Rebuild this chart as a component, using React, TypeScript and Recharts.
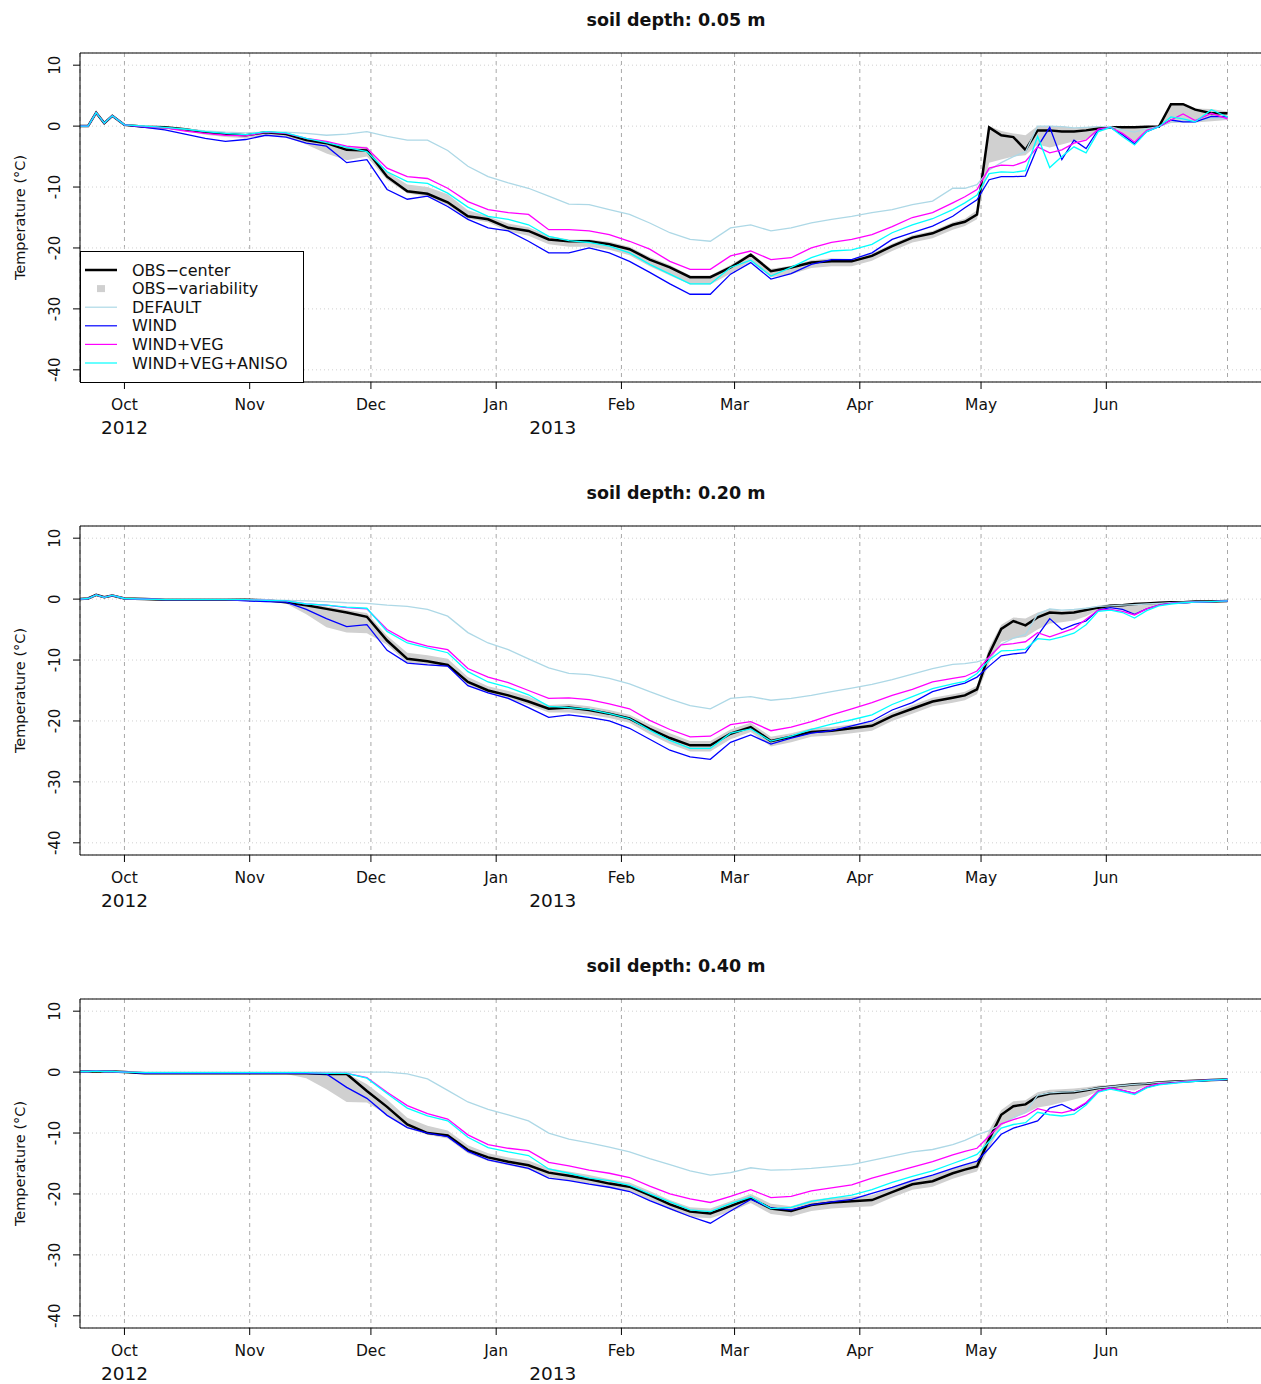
import {
  Area,
  CartesianGrid,
  ComposedChart,
  Legend,
  Line,
  ReferenceLine,
  XAxis,
  YAxis,
} from "recharts";

// days since 1 Oct 2012
const DAYS = [
  -11, -9, -7, -5, -3, 0,
  5, 10, 15, 20, 25, 30, 35, 40, 45, 50,
  55, 60, 65, 70, 75, 80, 85, 90, 95, 100,
  105, 110, 115, 120, 125, 130, 135, 140, 145, 150,
  155, 160, 165, 170, 175, 180, 185, 190, 195, 200,
  205, 208, 211, 214, 217, 220, 223, 226, 229, 232,
  235, 238, 241, 244, 247, 250, 253, 256, 259, 262,
  265, 269, 273,
];

// ---- 0.05 m ----
const OBS_05 = [
  0, 0, 2.2, 0.5, 1.7, 0.2,
  -0.1, -0.2, -0.5, -1.0, -1.3, -1.5, -1.0, -1.3, -2.3, -2.8,
  -3.9, -4.0, -8.3, -10.7, -11.1, -12.5, -14.8, -15.3, -16.7, -17.2,
  -18.6, -18.9, -18.9, -19.4, -20.2, -21.9, -23.2, -24.8, -24.8, -23.2,
  -21.1, -23.8, -23.2, -22.4, -22.2, -22.2, -21.3, -19.7, -18.3, -17.6,
  -16.2, -15.7, -14.5, -0.2, -1.5, -1.8, -3.9, -0.7, -0.7, -0.9,
  -0.9, -0.7, -0.4, -0.2, -0.2, -0.2, -0.1, -0.1, 3.6, 3.6,
  2.7, 2.1, 2.1,
];
const OBS_LO_05 = [
  0, 0, 2.2, 0.5, 1.7, 0.2,
  -0.2, -0.4, -0.8, -1.4, -1.8, -2.0, -1.5, -1.8, -3.0, -4.5,
  -5.6, -5.0, -8.8, -11.0, -11.6, -13.0, -15.2, -15.8, -17.3, -18.0,
  -19.4, -19.8, -19.8, -20.3, -21.2, -23.0, -24.5, -26.0, -26.0, -24.2,
  -22.2, -24.8, -24.3, -23.3, -23.0, -23.0, -22.1, -20.5, -19.1, -18.4,
  -17.0, -16.4, -15.3, -6.0, -5.5, -5.0, -4.8, -3.0, -3.5, -3.0,
  -2.5, -2.2, -1.0, -0.4, -1.2, -2.4, -0.8, -0.2, 0.5, 0.6,
  0.6, 0.8, 1.0,
];
const OBS_HI_05 = [
  0, 0, 2.2, 0.5, 1.7, 0.2,
  0, -0.1, -0.4, -0.8, -1.1, -1.3, -0.9, -1.1, -2.0, -2.5,
  -3.3, -3.4, -7.5, -9.6, -10.0, -11.2, -13.8, -14.8, -16.0, -16.6,
  -18.0, -18.6, -18.6, -19.0, -19.8, -21.5, -22.8, -24.5, -24.5, -22.8,
  -20.8, -23.4, -22.9, -22.0, -21.7, -21.8, -20.9, -19.3, -17.9, -17.2,
  -15.8, -15.2, -13.8, 0, -0.8, -1.2, -1.5, 0, 0, 0,
  -0.3, -0.2, 0, 0, 0, 0, 0, 0, 3.8, 3.8,
  2.9, 2.8, 2.4,
];
const DEFAULT_05 = [
  0, 0, 2.2, 0.5, 1.7, 0.2,
  0, -0.3, -0.5, -0.8, -1.0, -1.1, -1.0, -1.0, -1.2, -1.5,
  -1.3, -0.9, -1.7, -2.3, -2.3, -4.0, -6.6, -8.3, -9.3, -10.2,
  -11.5, -12.8, -12.9, -13.7, -14.5, -15.9, -17.5, -18.6, -18.9, -16.7,
  -16.2, -17.2, -16.7, -15.9, -15.3, -14.8, -14.2, -13.7, -12.9, -12.3,
  -10.2, -10.2, -9.6, -7.2, -6.0, -5.0, -4.2, 0, 0, -0.1,
  -0.3, -0.2, -0.1, -0.1, -0.6, -1.0, -0.4, -0.1, 0.7, 0.8,
  0.7, 1.3, 1.2,
];
const WIND_05 = [
  0, 0, 2.2, 0.5, 1.7, 0.2,
  -0.2, -0.6, -1.3, -2.0, -2.5, -2.2, -1.5, -1.8, -2.8, -3.3,
  -6.0, -5.5, -10.4, -12.0, -11.5, -13.2, -15.3, -16.7, -17.2, -18.9,
  -20.8, -20.8, -20.0, -20.8, -22.2, -24.0, -25.9, -27.6, -27.6, -24.3,
  -22.4, -25.1, -24.2, -22.7, -21.9, -21.9, -20.8, -18.6, -17.5, -16.4,
  -14.8, -13.4, -12.1, -8.8, -8.3, -8.3, -8.2, -3.4, -0.2, -5.5,
  -2.3, -3.7, -0.6, -0.2, -1.4, -2.9, -0.9, -0.1, 1.0, 0.7,
  0.7, 1.6, 1.5,
];
const WIND_VEG_05 = [
  0, 0, 2.2, 0.5, 1.7, 0.2,
  -0.1, -0.3, -0.8, -1.2, -1.5, -1.6, -1.0, -1.2, -2.0, -2.5,
  -3.3, -3.6, -6.9, -8.3, -8.6, -10.2, -12.4, -13.7, -14.2, -14.5,
  -17.0, -17.0, -17.2, -17.8, -18.9, -20.2, -22.2, -23.5, -23.5, -21.3,
  -20.5, -21.9, -21.6, -20.0, -19.1, -18.6, -17.8, -16.5, -15.0, -14.2,
  -12.6, -11.6, -10.4, -6.9, -6.4, -6.5, -5.8, -3.4, -4.4, -3.9,
  -2.8, -2.3, -0.5, -0.2, -1.2, -2.6, -0.7, -0.1, 1.0, 2.0,
  0.9, 2.1, 1.2,
];
const WIND_VEG_ANISO_05 = [
  0, 0, 2.2, 0.5, 1.7, 0.2,
  0, -0.2, -0.5, -0.9, -1.2, -1.4, -0.9, -1.1, -2.0, -2.7,
  -3.5, -4.2, -7.5, -9.1, -9.4, -11.0, -13.3, -14.8, -15.3, -16.2,
  -18.1, -18.8, -19.1, -19.7, -20.8, -22.7, -24.3, -25.9, -25.9, -23.2,
  -22.0, -24.6, -23.2, -21.6, -20.5, -20.3, -19.4, -17.5, -16.2, -15.2,
  -13.7, -12.6, -11.3, -7.8, -7.5, -7.6, -7.3, -1.7, -6.8, -5.0,
  -3.4, -4.4, -0.9, -0.2, -1.7, -3.1, -0.9, -0.1, 1.5, 1.2,
  0.7, 2.7, 1.5,
];

// ---- 0.20 m ----
const OBS_20 = [
  0, 0.1, 0.7, 0.3, 0.6, 0.1,
  0, -0.1, -0.1, -0.1, -0.1, -0.1, -0.2, -0.5, -1.0, -1.6,
  -2.2, -2.9, -6.8, -9.8, -10.2, -10.8, -13.6, -15.0, -15.8, -16.8,
  -18.0, -17.8, -18.2, -18.8, -19.6, -21.3, -22.8, -24.0, -24.0, -22.1,
  -21.0, -23.3, -22.6, -21.8, -21.6, -21.2, -20.8, -19.2, -18.0, -16.8,
  -16.2, -15.8, -14.8, -9.0, -4.9, -3.6, -4.3, -3.0, -2.2, -2.3,
  -2.2, -1.8, -1.4, -1.1, -1.0, -0.8, -0.7, -0.6, -0.5, -0.5,
  -0.4, -0.4, -0.3,
];
const OBS_LO_20 = [
  0, 0.1, 0.7, 0.3, 0.6, 0.1,
  0, -0.1, -0.1, -0.1, -0.1, -0.2, -0.3, -0.7, -2.5, -4.6,
  -5.5, -5.6, -7.5, -10.5, -10.8, -11.2, -14.0, -15.4, -16.4, -17.4,
  -18.6, -18.6, -19.0, -19.5, -20.3, -22.2, -23.8, -25.0, -25.0, -23.0,
  -21.8, -24.2, -23.5, -22.6, -22.4, -22.0, -21.6, -20.0, -18.8, -17.6,
  -17.0, -16.6, -15.6, -10.5, -7.0, -6.5, -6.2, -5.0, -4.0, -3.8,
  -3.5, -2.8, -1.8, -1.4, -1.8, -2.4, -1.6, -1.0, -0.7, -0.6,
  -0.5, -0.5, -0.4,
];
const OBS_HI_20 = [
  0, 0.1, 0.7, 0.3, 0.6, 0.1,
  0, -0.1, -0.1, -0.1, -0.1, -0.1, -0.1, -0.4, -0.8, -1.2,
  -1.8, -2.3, -6.0, -8.8, -9.2, -9.8, -12.8, -14.3, -15.1, -16.0,
  -17.4, -17.2, -17.6, -18.2, -19.0, -20.6, -22.0, -23.3, -23.3, -21.4,
  -20.3, -22.6, -22.0, -21.2, -21.0, -20.6, -20.2, -18.6, -17.4, -16.2,
  -15.6, -15.2, -14.2, -8.0, -4.2, -3.0, -3.2, -2.2, -1.6, -1.9,
  -1.8, -1.4, -1.1, -0.8, -0.8, -0.6, -0.5, -0.5, -0.4, -0.4,
  -0.3, -0.3, -0.3,
];
const DEFAULT_20 = [
  0, 0.1, 0.7, 0.3, 0.6, 0.1,
  0, 0, 0, 0, 0, -0.1, -0.1, -0.2, -0.3, -0.4,
  -0.6, -0.7, -1.0, -1.2, -1.7, -2.8, -5.5, -7.2, -8.3, -9.8,
  -11.3, -12.2, -12.4, -13.0, -13.9, -15.2, -16.4, -17.5, -18.0, -16.3,
  -16.0, -16.6, -16.3, -15.8, -15.2, -14.6, -14.0, -13.2, -12.3, -11.4,
  -10.7, -10.6, -10.3, -9.7, -7.4, -6.4, -5.8, -2.5, -1.6, -1.8,
  -1.7, -1.5, -1.2, -1.1, -1.0, -0.9, -0.8, -0.7, -0.6, -0.5,
  -0.4, -0.4, -0.3,
];
const WIND_20 = [
  0, 0.1, 0.7, 0.3, 0.6, 0.1,
  0, -0.1, -0.1, -0.1, -0.1, -0.3, -0.4, -0.5, -1.7, -3.2,
  -4.5, -4.2, -8.4, -10.5, -10.8, -11.0, -14.2, -15.4, -16.3, -17.8,
  -19.4, -19.0, -19.4, -20.0, -21.2, -23.0, -24.8, -25.9, -26.3, -23.5,
  -22.3, -23.8, -22.8, -22.0, -21.6, -20.8, -20.0, -18.2, -17.0, -15.2,
  -14.3, -13.8, -12.8, -11.0, -9.3, -9.0, -8.8, -6.0, -3.2, -5.0,
  -4.2, -3.6, -1.8, -1.4, -1.7, -2.5, -1.6, -1.0, -0.7, -0.6,
  -0.5, -0.4, -0.3,
];
const WIND_VEG_20 = [
  0, 0.1, 0.7, 0.3, 0.6, 0.1,
  0, -0.1, -0.1, -0.1, -0.1, -0.1, -0.2, -0.3, -0.8, -1.0,
  -1.4, -1.6, -5.0, -6.8, -7.7, -8.3, -11.4, -12.8, -13.7, -15.0,
  -16.3, -16.2, -16.5, -17.2, -18.0, -19.9, -21.4, -22.6, -22.5, -20.6,
  -20.1, -21.6, -21.0, -20.1, -19.0, -18.0, -17.0, -15.8, -14.8, -13.6,
  -13.0, -12.7, -11.8, -9.5, -7.5, -7.3, -7.0, -5.5, -6.2, -5.5,
  -4.8, -3.3, -1.8, -1.7, -2.0, -2.6, -1.6, -1.0, -0.7, -0.6,
  -0.5, -0.4, -0.3,
];
const WIND_VEG_ANISO_20 = [
  0, 0.1, 0.7, 0.3, 0.6, 0.1,
  0, -0.1, -0.1, -0.1, -0.1, -0.1, -0.2, -0.3, -0.8, -1.0,
  -1.3, -1.5, -5.3, -7.2, -8.0, -8.8, -11.9, -13.6, -14.5, -15.7,
  -17.6, -17.8, -18.1, -18.8, -19.6, -21.5, -23.2, -24.5, -24.5, -22.0,
  -21.3, -23.3, -22.5, -21.4, -20.5, -19.8, -19.0, -17.3, -16.0, -14.7,
  -13.9, -13.5, -12.2, -10.0, -8.5, -8.4, -8.2, -6.5, -6.7, -6.2,
  -5.6, -4.2, -2.0, -1.8, -2.2, -3.1, -1.9, -1.1, -0.8, -0.6,
  -0.5, -0.4, -0.3,
];

// ---- 0.40 m ----
const OBS_40 = [
  0.1, 0.1, 0.15, 0.1, 0.1, 0,
  -0.2, -0.2, -0.2, -0.2, -0.2, -0.2, -0.2, -0.2, -0.2, -0.3,
  -0.3, -3.1, -5.7, -8.6, -10.0, -10.4, -12.8, -14.0, -14.7, -15.3,
  -16.5, -17.0, -17.6, -18.3, -18.8, -20.2, -21.7, -22.9, -23.2, -22.0,
  -20.7, -22.4, -22.8, -21.8, -21.4, -21.2, -21.0, -19.7, -18.4, -17.9,
  -16.6, -16.0, -15.5, -11.0, -7.0, -5.6, -5.3, -4.0, -3.5, -3.4,
  -3.3, -3.0, -2.6, -2.4, -2.2, -2.0, -1.9, -1.7, -1.6, -1.5,
  -1.4, -1.3, -1.2,
];
const OBS_LO_40 = [
  0.1, 0.1, 0.15, 0.1, 0.1, 0,
  -0.3, -0.3, -0.3, -0.3, -0.3, -0.3, -0.3, -0.3, -1.0, -2.8,
  -4.9, -5.0, -7.0, -9.2, -10.3, -10.9, -13.3, -14.6, -15.3, -16.0,
  -17.2, -17.8, -18.4, -19.0, -19.6, -21.0, -22.6, -23.8, -24.0, -22.9,
  -21.5, -23.3, -23.7, -22.8, -22.4, -22.2, -22.0, -20.6, -19.3, -18.8,
  -17.5, -16.9, -16.3, -12.5, -8.8, -7.5, -6.8, -5.8, -5.5, -5.0,
  -4.5, -4.0, -3.2, -2.7, -2.8, -3.0, -2.3, -1.9, -1.8, -1.6,
  -1.5, -1.4, -1.3,
];
const OBS_HI_40 = [
  0.1, 0.1, 0.15, 0.1, 0.1, 0,
  -0.1, -0.1, -0.1, -0.1, -0.1, -0.1, -0.1, -0.1, -0.1, -0.2,
  -0.2, -2.0, -4.5, -7.5, -8.8, -9.6, -12.0, -13.3, -14.0, -14.5,
  -15.8, -16.3, -16.9, -17.6, -18.1, -19.5, -21.0, -22.2, -22.4, -21.2,
  -20.0, -21.6, -22.0, -21.0, -20.6, -20.4, -20.2, -18.9, -17.6, -17.0,
  -15.8, -15.2, -14.6, -9.5, -6.2, -4.8, -4.6, -3.3, -2.9, -2.8,
  -2.7, -2.5, -2.2, -2.1, -1.9, -1.8, -1.7, -1.5, -1.4, -1.3,
  -1.3, -1.2, -1.1,
];
const DEFAULT_40 = [
  0.1, 0.1, 0.15, 0.1, 0.1, 0,
  0, 0, 0, 0, 0, 0, 0, 0, 0, 0,
  0, 0, 0, -0.3, -1.1, -3.0, -4.9, -6.1, -7.0, -8.0,
  -10.0, -11.0, -11.6, -12.3, -13.1, -14.2, -15.2, -16.2, -16.9, -16.5,
  -15.7, -16.1, -16.0, -15.8, -15.5, -15.2, -14.5, -13.8, -13.1, -12.7,
  -11.9, -11.2, -10.3, -9.6, -8.6, -7.5, -6.6, -3.8, -3.4, -3.3,
  -3.2, -2.9, -2.6, -2.4, -2.2, -2.0, -1.9, -1.7, -1.6, -1.5,
  -1.4, -1.3, -1.2,
];
const WIND_40 = [
  0.1, 0.1, 0.15, 0.1, 0.1, 0,
  -0.2, -0.2, -0.2, -0.2, -0.2, -0.2, -0.2, -0.2, -0.2, -0.3,
  -2.5, -4.3, -7.1, -9.1, -10.0, -10.6, -13.0, -14.4, -15.1, -15.8,
  -17.4, -17.8, -18.4, -18.9, -19.6, -21.1, -22.4, -23.7, -24.8, -22.8,
  -20.9, -22.3, -22.6, -21.8, -21.3, -20.9, -19.9, -18.9, -17.8, -16.9,
  -15.8, -15.2, -14.6, -12.5, -10.2, -9.2, -8.6, -8.0, -5.9, -5.3,
  -6.3, -5.1, -3.1, -2.6, -3.0, -3.5, -2.5, -2.0, -1.8, -1.6,
  -1.5, -1.3, -1.2,
];
const WIND_VEG_40 = [
  0.1, 0.1, 0.15, 0.1, 0.1, 0,
  -0.1, -0.1, -0.1, -0.1, -0.1, -0.1, -0.1, -0.1, -0.1, -0.2,
  -0.2, -0.9, -3.3, -5.5, -6.8, -7.7, -10.3, -11.9, -12.5, -12.9,
  -14.8, -15.4, -16.1, -16.6, -17.3, -18.7, -20.0, -20.8, -21.4, -20.4,
  -19.3, -20.6, -20.4, -19.5, -19.0, -18.5, -17.4, -16.5, -15.6, -14.7,
  -13.6, -13.0, -12.5, -10.5, -8.5, -7.8, -7.2, -6.0, -6.5, -6.7,
  -6.2, -5.0, -3.1, -2.6, -3.0, -3.5, -2.4, -1.9, -1.8, -1.6,
  -1.4, -1.3, -1.2,
];
const WIND_VEG_ANISO_40 = [
  0.1, 0.1, 0.15, 0.1, 0.1, 0,
  -0.1, -0.1, -0.1, -0.1, -0.1, -0.1, -0.1, -0.1, -0.1, -0.2,
  -0.2, -1.0, -3.5, -5.9, -7.2, -8.0, -10.7, -12.4, -13.1, -13.7,
  -15.9, -16.6, -17.4, -17.8, -18.6, -20.0, -21.3, -22.6, -22.9, -21.6,
  -20.5, -22.4, -22.2, -21.2, -20.7, -20.2, -19.3, -18.1, -17.1, -16.2,
  -15.0, -14.3, -13.5, -11.4, -9.2, -8.6, -8.3, -6.6, -7.0, -7.2,
  -6.9, -5.4, -3.3, -2.8, -3.2, -3.7, -2.6, -2.1, -1.9, -1.7,
  -1.5, -1.3, -1.2,
];

// axes
const X_DOMAIN = [-11, 285];
const Y_DOMAIN = [-42, 12];
// first of each month; 1 Jul only gets a grid line
const MONTH_TICKS = [0, 31, 61, 92, 123, 151, 182, 212, 243, 273];
const MONTH_LABELS = ["Oct", "Nov", "Dec", "Jan", "Feb", "Mar", "Apr", "May", "Jun"];
const YEAR_TICKS = [0, 106];
const YEAR_LABELS = ["2012", "2013"];
const TEMP_TICKS = [-40, -30, -20, -10, 0, 10];

const OBS_COLOR = "#000000";
const BAND_COLOR = "#d0d0d0";
const MODEL_RUNS = [
  { key: "def", name: "DEFAULT", color: "#add8e6" },
  { key: "wind", name: "WIND", color: "#0000ff" },
  { key: "veg", name: "WIND+VEG", color: "#ff00ff" },
  { key: "aniso", name: "WIND+VEG+ANISO", color: "#00ffff" },
];

const PANELS = [
  { depth: "0.05", obs: OBS_05, lo: OBS_LO_05, hi: OBS_HI_05, def: DEFAULT_05, wind: WIND_05, veg: WIND_VEG_05, aniso: WIND_VEG_ANISO_05 },
  { depth: "0.20", obs: OBS_20, lo: OBS_LO_20, hi: OBS_HI_20, def: DEFAULT_20, wind: WIND_20, veg: WIND_VEG_20, aniso: WIND_VEG_ANISO_20 },
  { depth: "0.40", obs: OBS_40, lo: OBS_LO_40, hi: OBS_HI_40, def: DEFAULT_40, wind: WIND_40, veg: WIND_VEG_40, aniso: WIND_VEG_ANISO_40 },
];

const PANEL_H = 473;
const CHART_W = 1290;
const TEXT = "#111";

const MonthTick = ({ x, y, payload }: any) => {
  const label = MONTH_LABELS[MONTH_TICKS.indexOf(payload.value)];
  if (!label) return <g />;
  return (
    <g>
      <line x1={x} x2={x} y1={y - 7} y2={y} stroke="#000" />
      <text x={x} y={y + 21} textAnchor="middle" fontSize={15.5} fill={TEXT}>
        {label}
      </text>
    </g>
  );
};

const YearTick = ({ x, y, payload }: any) => (
  <text x={x} y={y + 22} textAnchor="middle" fontSize={18.5} fill={TEXT}>
    {YEAR_LABELS[YEAR_TICKS.indexOf(payload.value)]}
  </text>
);

// y labels read bottom-to-top like R's las=0
const TempTick = ({ x, y, payload }: any) => (
  <text
    x={x - 13}
    y={y}
    transform={`rotate(-90 ${x - 13} ${y})`}
    textAnchor="middle"
    fontSize={15}
    fill={TEXT}
  >
    {payload.value}
  </text>
);

const LegendBox = () => {
  const rowY = (i: number) => 19 + i * 18.6;
  return (
    <svg width={224} height={132} style={{ display: "block" }}>
      <rect x={0.5} y={0.5} width={223} height={131} fill="#fff" stroke="#000" />
      <line x1={5} x2={37} y1={rowY(0)} y2={rowY(0)} stroke={OBS_COLOR} strokeWidth={2.5} />
      <text x={52} y={rowY(0) + 5.5} fontSize={16} fill={TEXT}>OBS−center</text>
      <rect x={17} y={rowY(1) - 3.5} width={8} height={7} fill={BAND_COLOR} />
      <text x={52} y={rowY(1) + 5.5} fontSize={16} fill={TEXT}>OBS−variability</text>
      {MODEL_RUNS.map((run, i) => (
        <g key={run.key}>
          <line x1={5} x2={37} y1={rowY(i + 2)} y2={rowY(i + 2)} stroke={run.color} strokeWidth={1.2} />
          <text x={52} y={rowY(i + 2) + 5.5} fontSize={16} fill={TEXT}>{run.name}</text>
        </g>
      ))}
    </svg>
  );
};

const DepthPanel = ({ panel, top, showLegend }: any) => {
  const data = DAYS.map((day, i) => ({
    day,
    obs: panel.obs[i],
    band: [panel.lo[i], panel.hi[i]],
    def: panel.def[i],
    wind: panel.wind[i],
    veg: panel.veg[i],
    aniso: panel.aniso[i],
  }));

  return (
    <div style={{ position: "absolute", left: 0, top, width: CHART_W, height: PANEL_H }}>
      <div
        style={{
          position: "absolute",
          left: 0,
          top: 9,
          width: 1352,
          textAlign: "center",
          fontWeight: "bold",
          fontSize: 17.5,
          lineHeight: "22px",
        }}
      >
        soil depth: {panel.depth} m
      </div>
      <ComposedChart
        width={CHART_W}
        height={PANEL_H}
        data={data}
        margin={{ top: 53, right: 14, bottom: 31, left: 20 }}
      >
        <CartesianGrid horizontal={false} stroke="#a8a8a8" strokeDasharray="4 4" />
        <CartesianGrid vertical={false} stroke="#d0d0d0" strokeDasharray="1 3" />
        <XAxis
          dataKey="day"
          type="number"
          domain={X_DOMAIN}
          allowDataOverflow
          ticks={MONTH_TICKS}
          interval={0}
          tick={MonthTick}
          tickLine={false}
          tickSize={7}
          tickMargin={0}
          axisLine={{ stroke: "#000" }}
          height={30}
        />
        <XAxis
          xAxisId="year"
          dataKey="day"
          type="number"
          domain={X_DOMAIN}
          allowDataOverflow
          ticks={YEAR_TICKS}
          interval={0}
          tick={YearTick}
          tickLine={false}
          tickSize={0}
          tickMargin={0}
          axisLine={false}
          height={30}
        />
        <YAxis
          type="number"
          domain={Y_DOMAIN}
          allowDataOverflow
          ticks={TEMP_TICKS}
          interval={0}
          width={60}
          tick={TempTick}
          tickSize={7}
          tickMargin={0}
          tickLine={{ stroke: "#000" }}
          axisLine={{ stroke: "#000" }}
          label={{
            value: "Temperature (°C)",
            angle: -90,
            position: "insideLeft",
            offset: 0,
            style: { textAnchor: "middle", fontSize: 14.5, fill: TEXT },
          }}
        />
        <Area
          dataKey="band"
          type="linear"
          stroke="none"
          fill={BAND_COLOR}
          fillOpacity={1}
          isAnimationActive={false}
          legendType="none"
        />
        <Line
          dataKey="obs"
          type="linear"
          stroke={OBS_COLOR}
          strokeWidth={2.5}
          dot={false}
          isAnimationActive={false}
        />
        {MODEL_RUNS.map((run) => (
          <Line
            key={run.key}
            dataKey={run.key}
            name={run.name}
            type="linear"
            stroke={run.color}
            strokeWidth={1.3}
            dot={false}
            isAnimationActive={false}
          />
        ))}
        <ReferenceLine y={Y_DOMAIN[1]} stroke="#000" />
        {showLegend && (
          <Legend
            layout="vertical"
            align="center"
            verticalAlign="middle"
            content={LegendBox}
            wrapperStyle={{ left: 80, top: 251, width: 224, height: 132 }}
          />
        )}
      </ComposedChart>
    </div>
  );
};

export default function App() {
  return (
    <div
      style={{
        position: "absolute",
        left: 0,
        top: 0,
        width: 1261,
        height: 1384,
        overflow: "hidden",
        background: "#fff",
        color: TEXT,
        fontFamily: '"DejaVu Sans", sans-serif',
      }}
    >
      {PANELS.map((panel, i) => (
        <DepthPanel key={panel.depth} panel={panel} top={i * PANEL_H} showLegend={i === 0} />
      ))}
    </div>
  );
}
